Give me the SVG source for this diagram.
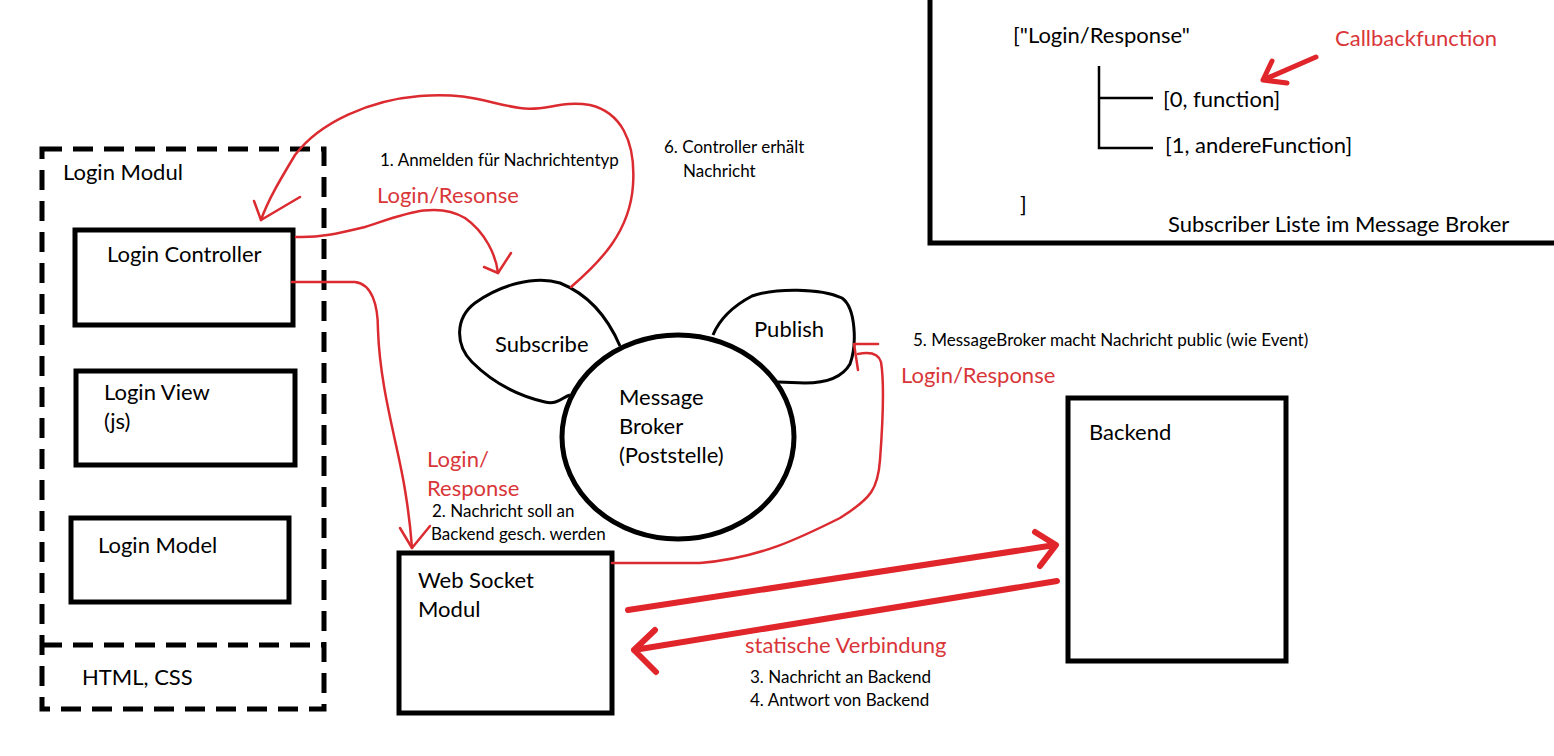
<svg xmlns="http://www.w3.org/2000/svg" width="1554" height="756" viewBox="0 0 1554 756">
<defs>
<style>
.t{font-family:Lato,"Open Sans","Liberation Sans",sans-serif;fill:#000}
.big{font-size:22px}
.sm{font-size:17px}
.red{fill:#d9363a}
.box{fill:none;stroke:#000;stroke-width:5}
.dash{fill:none;stroke:#000;stroke-width:5;stroke-dasharray:20 11}
.blob{fill:none;stroke:#000;stroke-width:3}
.rl{fill:none;stroke:#db2b30;stroke-width:2.5;stroke-linecap:round;stroke-linejoin:round}
.rt{fill:none;stroke:#e0252b;stroke-width:6;stroke-linecap:round;stroke-linejoin:round}
</style>
</defs>
<rect width="1554" height="756" fill="#fff"/>

<g id="login-modul">
<rect class="dash" x="42" y="149" width="282" height="560"/>
<text class="t big" x="63" y="180">Login Modul</text>
</g>
<g id="html-css">
<line class="dash" x1="42" y1="645" x2="324" y2="645"/>
<text class="t big" x="82" y="685">HTML, CSS</text>
</g>
<g id="login-controller">
<rect class="box" x="75" y="230" width="218" height="95"/>
<text class="t big" x="107" y="262">Login Controller</text>
</g>
<g id="login-view">
<rect class="box" x="76" y="371" width="219" height="94"/>
<text class="t big" x="104" y="400">Login View</text>
<text class="t big" x="104" y="429">(js)</text>
</g>
<g id="login-model">
<rect class="box" x="71" y="518" width="218" height="84"/>
<text class="t big" x="98" y="553">Login Model</text>
</g>
<g id="web-socket">
<rect class="box" x="399" y="553" width="213" height="160"/>
<text class="t big" x="418" y="588">Web Socket</text>
<text class="t big" x="418" y="617">Modul</text>
</g>
<g id="backend">
<rect class="box" x="1068" y="398" width="218" height="263"/>
<text class="t big" x="1089" y="440">Backend</text>
</g>
<g id="message-broker">
<ellipse cx="678" cy="437" rx="116" ry="102" fill="none" stroke="#000" stroke-width="5"/>
<text class="t big" x="619" y="405">Message</text>
<text class="t big" x="619" y="434">Broker</text>
<text class="t big" x="619" y="463">(Poststelle)</text>
</g>
<g id="subscribe">
<path class="blob" d="M620,346 C608,318 590,295 560,283 C535,275 500,285 475,303 C455,318 455,345 472,362 C490,380 515,395 545,402 C558,405 562,397 570,395"/>
<text class="t big" x="495" y="352">Subscribe</text>
</g>
<g id="publish">
<path class="blob" d="M713,335 C720,318 735,305 752,296 C775,288 820,288 842,298 C856,308 857,345 850,364 C842,378 825,383 805,383 L778,382"/>
<text class="t big" x="754" y="337">Publish</text>
</g>
<g id="subscriber-list">
<polyline fill="none" stroke="#000" stroke-width="5" points="930,0 930,243 1554,243"/>
<text class="t big" x="1013" y="43">["Login/Response"</text>
<text class="t big red" x="1335" y="46">Callbackfunction</text>
<polyline fill="none" stroke="#000" stroke-width="2.5" points="1099,66 1099,148 1153,148"/>
<line stroke="#000" stroke-width="2.5" x1="1099" y1="98" x2="1153" y2="98"/>
<text class="t big" x="1163" y="107">[0, function]</text>
<text class="t big" x="1165" y="153">[1, andereFunction]</text>
<text class="t big" x="1020" y="212">]</text>
<text class="t big" x="1168" y="232">Subscriber Liste im Message Broker</text>
<path fill="none" stroke="#e0252b" stroke-width="5" stroke-linecap="round" stroke-linejoin="round" d="M1316,57 L1263,80 M1272,61 L1263,80 L1287,83"/>
</g>

<g id="connectors">
<path class="rl" d="M571,287 C600,262 630,232 633,185 C636,140 620,112 590,105 C560,100 545,112 520,108 C490,104 470,92 420,96 C370,100 320,122 295,155 C280,180 268,200 261,220"/>
<path class="rl" d="M254,201 L261,220 L300,197"/>
<path class="rl" d="M296,237 C320,238 340,233 365,227 C400,216 435,200 465,218 C485,232 496,255 498,273"/>
<path class="rl" d="M484,267 L498,273 L511,253"/>
<path class="rl" d="M292,282 L355,282 C372,284 378,305 378,330 C380,390 398,445 405,490 C410,520 411,535 412,548"/>
<path class="rl" d="M400,528 L412,548 L430,526"/>
<path class="rl" d="M612,563 L700,563 C760,558 800,538 840,518 C872,498 878,488 880,460 C883,420 884,380 881,362 C878,352 868,352 858,354"/>
<path class="rl" d="M878,344 L854,344 L858,370"/>
<path class="rt" d="M628,610 L1055,545 M1035,532 L1056,545 L1040,566"/>
<path class="rt" d="M1057,581 L634,650 M655,630 L634,650 L656,672"/>
</g>

<g id="labels">
<text class="t sm" x="380" y="166">1. Anmelden für Nachrichtentyp</text>
<text class="t big red" x="377" y="203">Login/Resonse</text>
<text class="t sm" x="664" y="153">6. Controller erhält</text>
<text class="t sm" x="683" y="177">Nachricht</text>
<text class="t sm" x="913" y="346">5. MessageBroker macht Nachricht public (wie Event)</text>
<text class="t big red" x="901" y="383">Login/Response</text>
<text class="t big red" x="427" y="467">Login/</text>
<text class="t big red" x="427" y="496">Response</text>
<text class="t sm" x="432" y="517">2. Nachricht soll an</text>
<text class="t sm" x="431" y="540">Backend gesch. werden</text>
<text class="t big red" x="745" y="653">statische Verbindung</text>
<text class="t sm" x="750" y="683">3. Nachricht an Backend</text>
<text class="t sm" x="750" y="706">4. Antwort von Backend</text>
</g>
</svg>
